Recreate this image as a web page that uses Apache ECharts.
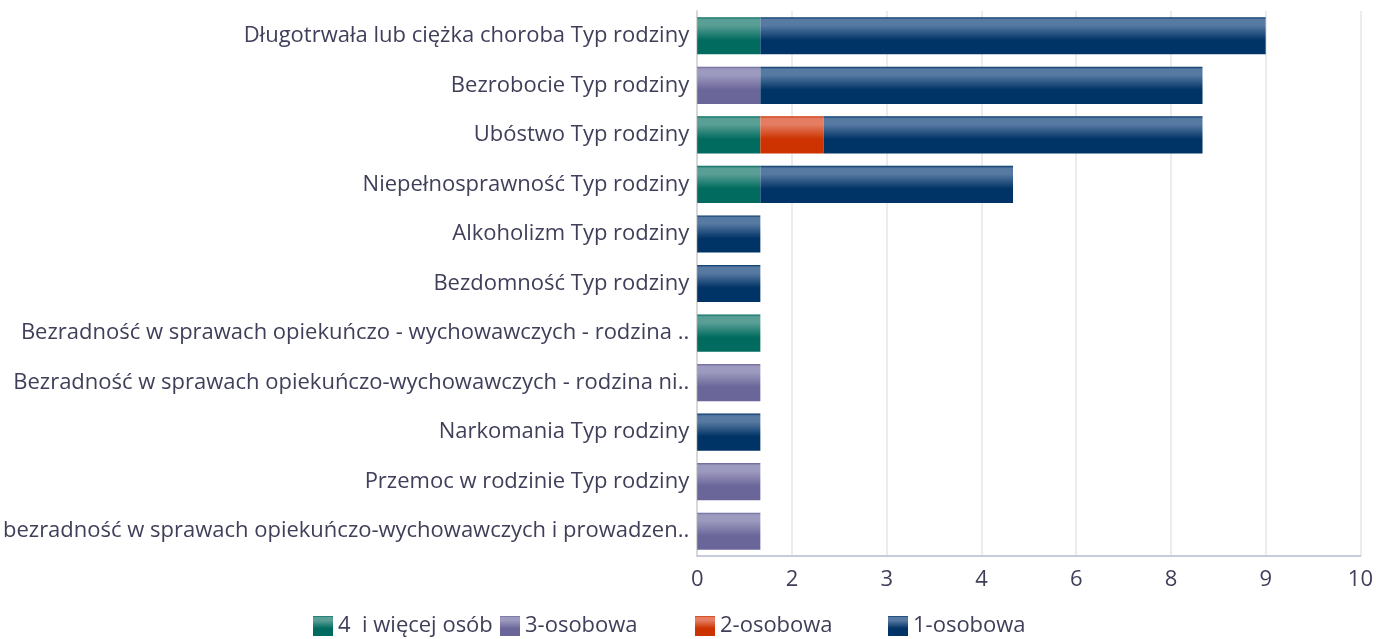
<!DOCTYPE html>
<html><head><meta charset="utf-8">
<script src="https://cdn.jsdelivr.net/npm/echarts@6/dist/echarts.min.js"></script>
<style>html,body{margin:0;padding:0;background:#fff}#c{width:1376px;height:639px}</style>
</head><body><div id="c"></div>
<script>
var categories = [
  'Długotrwała lub ciężka choroba Typ rodziny',
  'Bezrobocie Typ rodziny',
  'Ubóstwo Typ rodziny',
  'Niepełnosprawność Typ rodziny',
  'Alkoholizm Typ rodziny',
  'Bezdomność Typ rodziny',
  'Bezradność w sprawach opiekuńczo - wychowawczych - rodzina ..',
  'Bezradność w sprawach opiekuńczo-wychowawczych - rodzina ni..',
  'Narkomania Typ rodziny',
  'Przemoc w rodzinie Typ rodziny',
  'bezradność w sprawach opiekuńczo-wychowawczych i prowadzen..'
];
var seriesNames = ['4  i więcej osób', '3-osobowa', '2-osobowa', '1-osobowa'];
var s4plus = [1, null, 1, 1, null, null, 1, null, null, null, null];
var s3 = [null, 1, null, null, null, null, null, 1, null, 1, 1];
var s2 = [null, null, 1, null, null, null, null, null, null, null, null];
var s1 = [8, 7, 6, 4, 1, 1, null, null, 1, null, null];
var tickLabels = ['0', '2', '3', '4', '6', '8', '9', '10'];

var baseColors = ['#006b5e', '#6b6699', '#cc3300', '#003366'];
var lightColors = ['#5a9f96', '#9d9abf', '#e47d62', '#577aa2'];
function grad(i) {
  return new echarts.graphic.LinearGradient(0, 0, 0, 1, [
    {offset: 0, color: baseColors[i]},
    {offset: 0.06, color: lightColors[i]},
    {offset: 0.22, color: lightColors[i]},
    {offset: 0.62, color: baseColors[i]},
    {offset: 1, color: baseColors[i]}
  ]);
}
var datas = [s4plus, s3, s2, s1];
var series = datas.map(function (d, i) {
  return {
    name: seriesNames[i], type: 'bar', stack: 'all', data: d,
    barCategoryGap: '25%',
    itemStyle: {color: grad(i)},
    emphasis: {disabled: true}
  };
});
var legendLefts = [313, 500, 695, 888];
var legends = seriesNames.map(function (n, i) {
  return {
    data: [{name: n, itemStyle: {color: grad(i)}}], left: legendLefts[i], top: 615, padding: 0,
    itemWidth: 20, itemHeight: 20, itemGap: 0, icon: 'rect',
    textStyle: {fontFamily: 'Open Sans', fontSize: 22, color: '#3f3f5a', padding: [0, 0, 0, 0]},
    selectedMode: false
  };
});
var chart = echarts.init(document.getElementById('c'));
chart.setOption({
  animation: false,
  grid: {left: 694, right: 14, top: 11, bottom: 83, containLabel: false},
  legend: legends,
  xAxis: {
    type: 'value', min: 0, max: 10.5, interval: 1.5,
    axisLine: {show: true, lineStyle: {color: '#c8ccd8', width: 2}},
    axisTick: {show: false},
    splitLine: {show: true, lineStyle: {color: '#ececec', width: 2}},
    axisLabel: {
      margin: 13, fontFamily: 'Open Sans', fontSize: 22, color: '#3f3f5a',
      formatter: function (v, idx) { return tickLabels[idx]; }
    }
  },
  yAxis: {
    type: 'category', data: categories, inverse: true,
    axisLine: {show: true, lineStyle: {color: '#d8d8d8', width: 2}},
    axisTick: {show: false},
    axisLabel: {margin: 8, fontFamily: 'Open Sans', fontSize: 22, color: '#3f3f5a', padding: [4, 0, 0, 0]}
  },
  series: series
});
</script></body></html>
